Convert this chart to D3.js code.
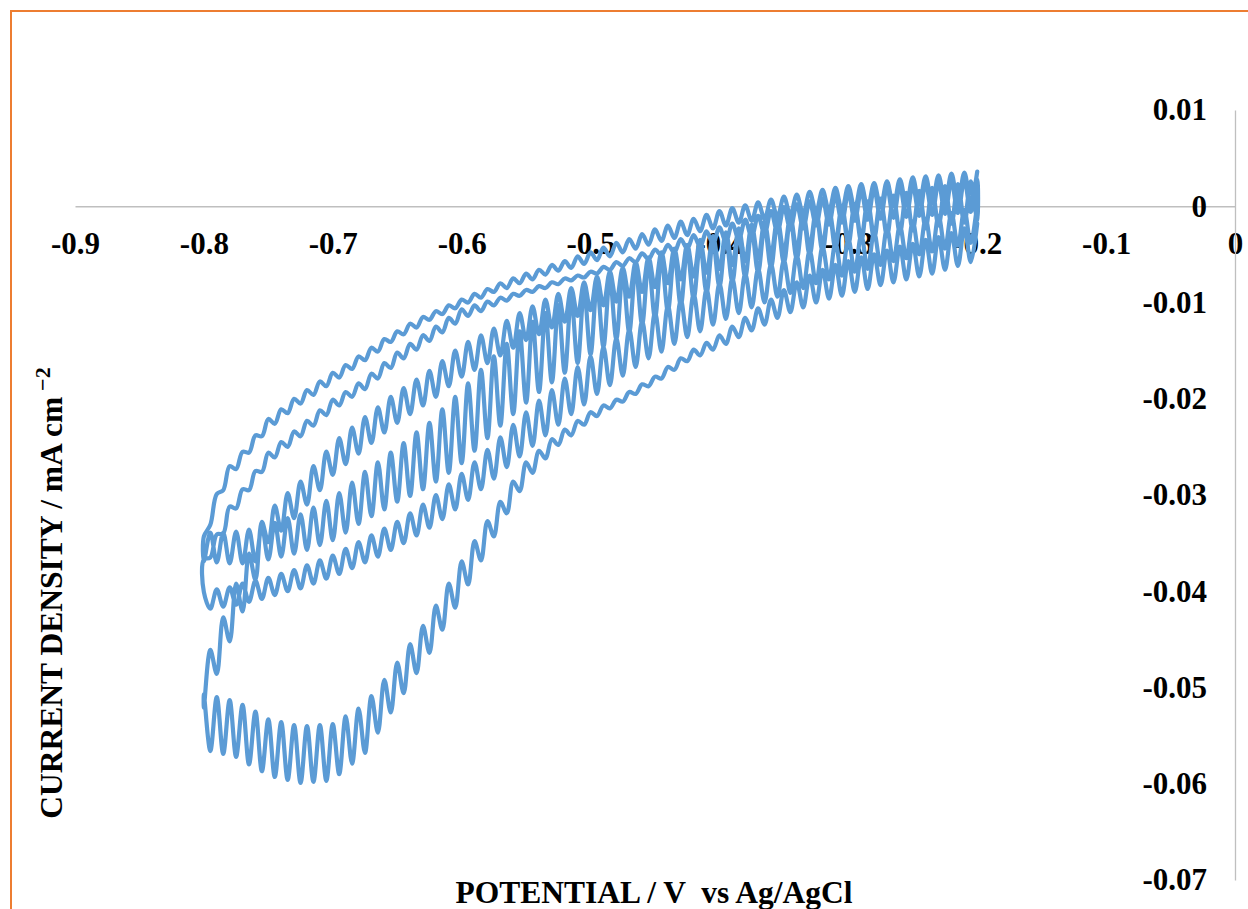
<!DOCTYPE html>
<html>
<head>
<meta charset="utf-8">
<script src="https://cdn.jsdelivr.net/npm/d3@7"></script>
<style>
  body { margin: 0; background: #fff; }
  svg { display: block; }
</style>
</head>
<body>
<script>
// potential grid, V vs Ag/AgCl (same grid for every sweep)
var potential = [
  -0.800, -0.795, -0.790, -0.785, -0.780, -0.775, -0.770, -0.765, -0.760, -0.755,
  -0.750, -0.745, -0.740, -0.735, -0.730, -0.725, -0.720, -0.715, -0.710, -0.705,
  -0.700, -0.695, -0.690, -0.685, -0.680, -0.675, -0.670, -0.665, -0.660, -0.655,
  -0.650, -0.645, -0.640, -0.635, -0.630, -0.625, -0.620, -0.615, -0.610, -0.605,
  -0.600, -0.595, -0.590, -0.585, -0.580, -0.575, -0.570, -0.565, -0.560, -0.555,
  -0.550, -0.545, -0.540, -0.535, -0.530, -0.525, -0.520, -0.515, -0.510, -0.505,
  -0.500, -0.495, -0.490, -0.485, -0.480, -0.475, -0.470, -0.465, -0.460, -0.455,
  -0.450, -0.445, -0.440, -0.435, -0.430, -0.425, -0.420, -0.415, -0.410, -0.405,
  -0.400, -0.395, -0.390, -0.385, -0.380, -0.375, -0.370, -0.365, -0.360, -0.355,
  -0.350, -0.345, -0.340, -0.335, -0.330, -0.325, -0.320, -0.315, -0.310, -0.305,
  -0.300, -0.295, -0.290, -0.285, -0.280, -0.275, -0.270, -0.265, -0.260, -0.255,
  -0.250, -0.245, -0.240, -0.235, -0.230, -0.225, -0.220, -0.215, -0.210, -0.205,
  -0.200
];

// current density, listed in units of 1e-4 mA cm-2, one value per potential above
var unit = 1e-4;

// cycle 1, cathodic sweep (-0.2 -> -0.8)
var sweep1Down = [
  -507, -566, -510, -569, -513, -572, -518, -580, -525, -587,
  -533, -593, -536, -596, -539, -599, -540, -598, -539, -597,
  -538, -590, -530, -579, -522, -568, -509, -547, -492, -526,
  -474, -506, -455, -485, -436, -464, -415, -440, -392, -417,
  -369, -393, -348, -368, -327, -343, -307, -319, -286, -296,
  -266, -277, -254, -262, -242, -248, -232, -238, -223, -227,
  -214, -218, -207, -210, -201, -203, -193, -195, -185, -187,
  -177, -179, -167, -170, -158, -161, -149, -155, -142, -149,
  -134, -143, -125, -136, -116, -129, -106, -123, -97, -116,
  -87, -110, -79, -105, -72, -100, -66, -96, -61, -93,
  -57, -89, -53, -86, -50, -82, -46, -79, -42, -76,
  -39, -73, -35, -70, -32, -66, -28, -62, -23, -58,
  -18
];

// cycle 1, anodic sweep (-0.8 -> -0.2)
var sweep1Up = [
  -521, -461, -486, -427, -452, -392, -421, -361, -388, -328,
  -349, -311, -337, -298, -324, -286, -310, -270, -295, -255,
  -279, -241, -268, -230, -257, -219, -246, -209, -235, -198,
  -225, -189, -216, -180, -207, -171, -198, -161, -187, -150,
  -177, -141, -170, -134, -163, -127, -155, -119, -147, -111,
  -139, -104, -133, -97, -126, -91, -120, -85, -114, -79,
  -108, -73, -103, -68, -99, -64, -94, -58, -89, -53,
  -84, -48, -80, -44, -76, -40, -73, -35, -69, -31,
  -65, -27, -61, -23, -57, -19, -54, -16, -51, -13,
  -48, -11, -45, -8, -42, -5, -40, -3, -37, 0,
  -35, 2, -33, 5, -30, 7, -28, 9, -26, 11,
  -24, 13, -22, 15, -20, 17, -18, 19, -17, 20,
  -15
];

// cycle 2, cathodic sweep
var sweep2Down = [
  -401, -418, -398, -416, -396, -414, -392, -411, -389, -408,
  -386, -404, -382, -400, -378, -397, -373, -392, -368, -387,
  -363, -382, -356, -376, -349, -370, -342, -364, -335, -357,
  -328, -350, -319, -342, -310, -334, -300, -325, -289, -315,
  -278, -305, -266, -294, -253, -283, -240, -271, -227, -260,
  -214, -249, -202, -238, -191, -227, -179, -216, -167, -206,
  -156, -195, -146, -186, -137, -176, -128, -167, -119, -158,
  -110, -151, -103, -143, -97, -136, -91, -130, -86, -123,
  -80, -117, -75, -111, -70, -105, -65, -100, -60, -94,
  -56, -90, -51, -85, -46, -80, -42, -76, -38, -72,
  -34, -68, -30, -65, -27, -61, -23, -57, -20, -54,
  -16, -50, -13, -47, -10, -44, -7, -41, -4, -38,
  -1
];

// cycle 2, anodic sweep
var sweep2Up = [
  -367, -365, -341, -340, -312, -314, -294, -295, -275, -276,
  -256, -261, -245, -250, -234, -239, -223, -228, -212, -217,
  -201, -207, -193, -198, -184, -190, -174, -179, -163, -168,
  -152, -158, -143, -149, -134, -140, -125, -131, -116, -122,
  -107, -114, -103, -109, -99, -103, -95, -98, -91, -93,
  -87, -89, -83, -85, -79, -81, -75, -77, -72, -74,
  -68, -70, -63, -66, -58, -62, -54, -58, -49, -55,
  -45, -51, -40, -48, -34, -44, -30, -42, -26, -39,
  -22, -37, -18, -35, -14, -32, -10, -29, -5, -27,
  -1, -24, 2, -23, 5, -20, 8, -19, 11, -17,
  14, -15, 16, -14, 18, -13, 20, -12, 21, -11,
  22, -10, 24, -9, 25, -8, 26, -7, 27, -6,
  28
];

// cycle 3, cathodic sweep
var sweep3Down = [
  -369, -339, -370, -339, -371, -338, -371, -336, -369, -333,
  -367, -329, -364, -324, -361, -320, -357, -313, -352, -306,
  -347, -298, -339, -287, -330, -276, -322, -266, -315, -256,
  -307, -246, -301, -235, -294, -225, -286, -211, -277, -198,
  -267, -184, -254, -170, -241, -156, -228, -143, -216, -130,
  -204, -120, -193, -111, -183, -103, -173, -95, -163, -88,
  -154, -81, -146, -75, -138, -70, -131, -64, -123, -59,
  -116, -54, -109, -49, -103, -45, -96, -40, -90, -36,
  -84, -32, -79, -28, -74, -25, -69, -21, -64, -17,
  -59, -13, -55, -10, -51, -7, -47, -4, -44, -1,
  -40, 2, -37, 5, -34, 8, -31, 11, -28, 14,
  -25, 16, -23, 19, -20, 21, -18, 23, -15, 26,
  -13
];

// cycle 3, anodic sweep
var sweep3Up = [
  -343, -331, -299, -295, -270, -273, -255, -256, -238, -239,
  -221, -226, -211, -215, -200, -205, -191, -196, -182, -187,
  -173, -178, -165, -169, -156, -160, -147, -151, -138, -141,
  -130, -133, -122, -126, -115, -118, -109, -112, -103, -106,
  -97, -100, -91, -95, -86, -89, -80, -85, -75, -80,
  -70, -76, -66, -71, -61, -67, -57, -64, -52, -60,
  -48, -56, -43, -52, -38, -48, -34, -44, -29, -40,
  -24, -36, -20, -33, -16, -30, -13, -26, -9, -23,
  -5, -20, -2, -17, 1, -15, 4, -13, 7, -11,
  10, -9, 12, -8, 15, -6, 17, -5, 19, -4,
  21, -3, 23, -2, 24, -1, 26, 0, 28, 1,
  30, 2, 31, 3, 32, 3, 34, 3, 35, 4,
  36
];

// order in which the potential was swept
var sweepOrder = [
  { values: sweep1Down, down: true },
  { values: sweep1Up, down: false },
  { values: sweep2Down, down: true },
  { values: sweep2Up, down: false },
  { values: sweep3Down, down: true },
  { values: sweep3Up, down: false }
];

var xTicks = [-0.9, -0.8, -0.7, -0.6, -0.5, -0.4, -0.3, -0.2, -0.1, 0];
var xTickLabels = ["-0.9", "-0.8", "-0.7", "-0.6", "-0.5", "-0.4", "-0.3", "-0.2", "-0.1", "0"];
var yTicks = [0.01, 0, -0.01, -0.02, -0.03, -0.04, -0.05, -0.06, -0.07];
var yTickLabels = ["0.01", "0", "-0.01", "-0.02", "-0.03", "-0.04", "-0.05", "-0.06", "-0.07"];

var width = 1248, height = 909;
var fontFamily = '"Liberation Serif", "Times New Roman", serif';

var svg = d3.select("body").append("svg")
  .attr("width", width)
  .attr("height", height);

// chart area border (orange)
svg.append("rect")
  .attr("x", 11)
  .attr("y", 11)
  .attr("width", 1300)
  .attr("height", 1000)
  .attr("fill", "none")
  .attr("stroke", "#ED7D31")
  .attr("stroke-width", 2);

var x = d3.scaleLinear().domain([-0.9, 0]).range([75, 1235]);
var y = d3.scaleLinear().domain([0.01, -0.07]).range([110, 880]);

// x axis along y = 0
var xAxis = d3.axisBottom(x)
  .tickValues(xTicks)
  .tickFormat(function(d, i) { return xTickLabels[i]; })
  .tickSize(0)
  .tickSizeOuter(0)
  .tickPadding(26);

var gx = svg.append("g")
  .attr("transform", "translate(0," + y(0) + ")")
  .call(xAxis);

// y axis along x = 0, labels on its left
var yAxis = d3.axisLeft(y)
  .tickValues(yTicks)
  .tickFormat(function(d, i) { return yTickLabels[i]; })
  .tickSize(0)
  .tickSizeOuter(0)
  .tickPadding(28);

var gy = svg.append("g")
  .attr("transform", "translate(" + x(0) + ",0)")
  .call(yAxis);

[gx, gy].forEach(function(g) {
  g.select(".domain").attr("stroke", "#BFBFBF").attr("stroke-width", 1.3);
  g.selectAll("text")
    .style("font-family", fontFamily)
    .style("font-weight", "bold")
    .style("font-size", "31px")
    .attr("fill", "#000");
});

// build the voltammogram in sweep order
var points = [];
sweepOrder.forEach(function(s) {
  var idx = d3.range(potential.length);
  if (s.down) idx.reverse();
  idx.forEach(function(i) {
    points.push([potential[i], s.values[i] * unit]);
  });
});

var line = d3.line()
  .x(function(d) { return x(d[0]); })
  .y(function(d) { return y(d[1]); })
  .curve(d3.curveCatmullRom.alpha(0.5));

svg.append("path")
  .datum(points)
  .attr("d", line)
  .attr("fill", "none")
  .attr("stroke", "#5B9BD5")
  .attr("stroke-width", 4.2)
  .attr("stroke-linejoin", "round")
  .attr("stroke-linecap", "round");

// axis titles
svg.append("text")
  .attr("x", 654)
  .attr("y", 903)
  .attr("text-anchor", "middle")
  .style("font-family", fontFamily)
  .style("font-weight", "bold")
  .style("font-size", "31.5px")
  .text("POTENTIAL / V \u00a0vs Ag/AgCl");

var yTitle = svg.append("text")
  .attr("transform", "translate(62,593) rotate(-90)")
  .attr("text-anchor", "middle")
  .style("font-family", fontFamily)
  .style("font-weight", "bold")
  .style("font-size", "31.5px");
yTitle.append("tspan").text("CURRENT DENSITY / mA cm");
yTitle.append("tspan")
  .attr("dx", 6)
  .attr("dy", -12)
  .style("font-size", "22px")
  .text("\u22122");
</script>
</body>
</html>
